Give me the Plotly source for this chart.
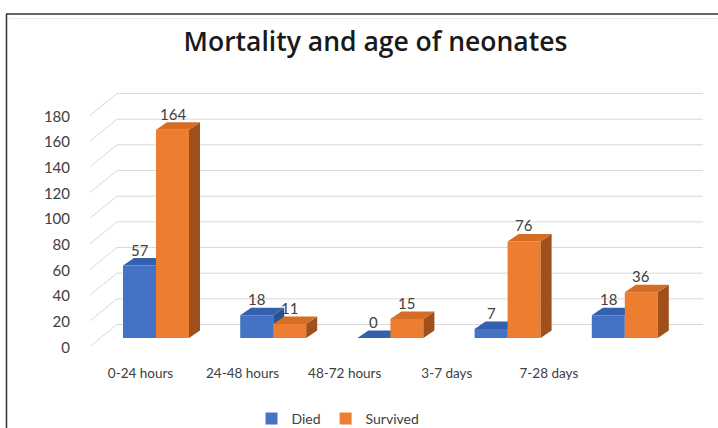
import plotly.graph_objects as go

# ---- data ----
categories = ["0-24 hours", "24-48 hours", "48-72 hours", "3-7 days", "7-28 days"]
died = [57, 18, 0, 7, 18]
survived = [164, 11, 15, 76, 36]
y_ticks = list(range(0, 181, 20))

# ---- styling / geometry (pixels of the 718x428 page) ----
W, H = 718, 428
PL, PR, PT, PB = 80, 703, 80, 360          # plot area edges
PW, PH = PR - PL, PB - PT
BAR_FRONT = "#4472c4", "#ed7d31"
BAR_TOP = "#3560ad", "#d66d25"
BAR_SIDE = "#2b4f90", "#a0501b"
TXT = "#404040"
FONT = "Lato"

# bar axis: category spacing in px and origin
bar_cx0, bar_step = 156.0, 117.2
xa = -(bar_cx0 - PL) / bar_step
xb = xa + PW / bar_step
bw = 33.0 / bar_step
# label axis
lab_cx0, lab_step = 140.5, 102.1
x2a = -(lab_cx0 - PL) / lab_step
x2b = x2a + PW / lab_step
# vertical scales
k_bar, base_bar = 1.27, 338.0
ya = -(PB - base_bar) / k_bar
yb = (base_bar - PT) / k_bar
k_lab, base_lab = 1.2833, 347.5
y2a = -(PB - base_lab) / k_lab
y2b = (base_lab - PT) / k_lab
# depth offsets
ddx = 11.0 / bar_step
ddy = 7.5 / k_bar

px = lambda p: p / W          # page pixel -> paper (margins are zero)
py = lambda p: 1 - p / H

idx = list(range(len(categories)))

fig = go.Figure()
fig.add_trace(go.Bar(x=idx, y=died, name="Died", width=bw, offset=-bw,
                     marker=dict(color=BAR_FRONT[0], line=dict(width=0)),
                     hoverinfo="y"))
fig.add_trace(go.Bar(x=idx, y=survived, name="Survived", width=bw, offset=0,
                     marker=dict(color=BAR_FRONT[1], line=dict(width=0)),
                     hoverinfo="y"))
# invisible trace to anchor the label axes
fig.add_trace(go.Scatter(x=[0], y=[0], xaxis="x2", yaxis="y2", mode="markers",
                         marker=dict(opacity=0), showlegend=False, hoverinfo="skip"))

shapes = []
# 3D top/side faces
for s, (vals, off, layer) in enumerate([(died, -bw, "between"), (survived, 0.0, "above")]):
    for i, v in zip(idx, vals):
        left = i + off
        right = left + bw
        top = (f"M {left},{v} L {right},{v} L {right+ddx},{v+ddy} "
               f"L {left+ddx},{v+ddy} Z")
        side = (f"M {right},0 L {right},{v} L {right+ddx},{v+ddy} "
                f"L {right+ddx},{ddy} Z")
        for p, col in ((side, BAR_SIDE[s]), (top, BAR_TOP[s])):
            shapes.append(dict(type="path", path=p, xref="x", yref="y",
                               fillcolor=col, line=dict(width=0), layer=layer))

# perspective gridlines
back_off = 23.0 / k_lab
for v in y_ticks:
    shapes.append(dict(type="line", xref="paper", yref="y2",
                       x0=px(117), x1=px(703), y0=v + back_off, y1=v + back_off,
                       line=dict(color="#d9d9d9", width=1), layer="below"))
    shapes.append(dict(type="line", xref="paper", yref="y2",
                       x0=px(90), x1=px(117), y0=v + 0.8, y1=v + back_off,
                       line=dict(color="#d9d9d9", width=1), layer="below"))

# outer frame (top & left)
shapes.append(dict(type="line", xref="paper", yref="paper", x0=px(6), x1=px(720),
                   y0=py(14), y1=py(14), line=dict(color="#333333", width=1.5)))
shapes.append(dict(type="line", xref="paper", yref="paper", x0=px(6.5), x1=px(6.5),
                   y0=py(14), y1=py(430), line=dict(color="#333333", width=1.5)))
shapes.append(dict(type="line", xref="paper", yref="paper", x0=px(9), x1=px(720),
                   y0=py(18.5), y1=py(18.5), line=dict(color="#ececec", width=1)))

annotations = []
for vals, off in ((died, -bw / 2), (survived, bw / 2)):
    for i, v in zip(idx, vals):
        annotations.append(dict(x=i + off, y=v, xref="x", yref="y", text=str(v),
                                showarrow=False, yshift=16,
                                font=dict(family=FONT, size=15, color=TXT)))

fig.update_layout(
    width=W, height=H,
    margin=dict(l=0, r=0, t=0, b=0, autoexpand=False),
    paper_bgcolor="white", plot_bgcolor="white",
    barmode="overlay",
    title=dict(text="Mortality and age of neonates", x=375.5 / W, xanchor="center",
               y=1 - 42 / H, yanchor="middle",
               font=dict(family="Open Sans", size=26.5, weight=600, color="#1a1a1a")),
    xaxis=dict(domain=[px(PL), px(PR)], range=[xa, xb], showticklabels=False,
               showgrid=False, zeroline=False, showline=False),
    yaxis=dict(domain=[py(PB), py(PT)], range=[ya, yb], showticklabels=False,
               showgrid=False, zeroline=False, showline=False),
    xaxis2=dict(range=[x2a, x2b], overlaying="x", side="bottom", tickmode="array",
                tickvals=idx, ticktext=categories, showgrid=False, zeroline=False,
                showline=False, ticks="", ticklabelstandoff=3,
                tickfont=dict(family=FONT, size=13.5, color=TXT)),
    yaxis2=dict(range=[y2a, y2b], overlaying="y", side="left", tickmode="array",
                tickvals=y_ticks, showgrid=False, zeroline=False, showline=False,
                ticks="outside", ticklen=6, tickcolor="rgba(0,0,0,0)",
                tickfont=dict(family=FONT, size=15, color=TXT)),
    legend=dict(orientation="h", x=px(338), xanchor="center", y=py(419),
                yanchor="middle", font=dict(family=FONT, size=14, color=TXT),
                itemwidth=30, bgcolor="rgba(0,0,0,0)"),
    shapes=shapes,
    annotations=annotations,
    showlegend=True,
)

fig.write_html("out.html", config={"displayModeBar": False},
               post_script="document.body.style.margin='0';")
